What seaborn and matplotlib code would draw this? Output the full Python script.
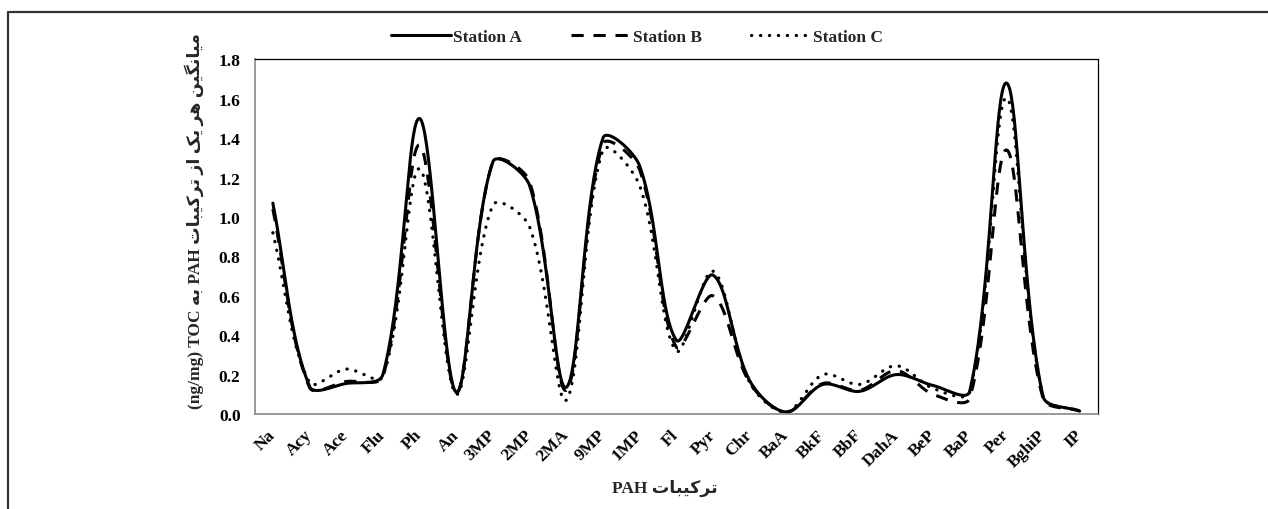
import numpy as np
import pandas as pd
import matplotlib
matplotlib.use("Agg")
import matplotlib.pyplot as plt
import seaborn as sns
from matplotlib.lines import Line2D

# ---------------- data ----------------
compounds = ["Na", "Acy", "Ace", "Flu", "Ph", "An", "3MP", "2MP", "2MA", "9MP", "1MP",
             "Fl", "Pyr", "Chr", "BaA", "BkF", "BbF", "DahA", "BeP", "BaP", "Per", "BghiP", "IP"]
station_a = [1.07, 0.14, 0.155, 0.20, 1.50, 0.11, 1.28, 1.16, 0.135, 1.40, 1.26,
             0.375, 0.705, 0.17, 0.01, 0.15, 0.115, 0.20, 0.145, 0.115, 1.68, 0.09, 0.015]
station_b = [1.04, 0.135, 0.165, 0.19, 1.365, 0.11, 1.28, 1.18, 0.12, 1.37, 1.24,
             0.34, 0.60, 0.16, 0.01, 0.155, 0.12, 0.22, 0.10, 0.08, 1.34, 0.08, 0.015]
station_c = [0.92, 0.16, 0.228, 0.19, 1.245, 0.10, 1.06, 0.95, 0.07, 1.34, 1.16,
             0.32, 0.725, 0.16, 0.01, 0.20, 0.15, 0.245, 0.13, 0.11, 1.605, 0.09, 0.015]
series_names = ["Station A", "Station B", "Station C"]
y_ticks = [0.0, 0.2, 0.4, 0.6, 0.8, 1.0, 1.2, 1.4, 1.6, 1.8]

# Persian text (presentation forms, visual order)
w_tarkibat = "\uFE95\uFE8E\uFE92\uFBFF\uFB90\uFEAE\uFE97"
w_be = "\uFEEA\uFE91"
w_az = "\uFEAF\uFE8D"
w_yek = "\uFB8F\uFBFE"
w_har = "\uFEAE\uFEEB"
w_miangin = "\uFEE6\uFBFF\uFB95\uFEE7\uFE8E\uFBFF\uFEE3"
y_label = "(ng/mg) TOC " + w_be + " PAH " + w_tarkibat + " " + w_az + " " + w_yek + " " + w_har + " " + w_miangin
x_label = "PAH " + w_tarkibat

# ---------------- style ----------------
sns.set_theme(style="white")
plt.rcParams["font.family"] = ["Liberation Serif", "DejaVu Sans"]
plt.rcParams["font.weight"] = "bold"

FS = 12.5
W, H = 1268, 510
fig = plt.figure(figsize=(W / 100, H / 100), dpi=100)
fig.patch.set_facecolor("white")
ax = fig.add_axes([254.5 / W, 1 - 415 / H, (1098 - 254.5) / W, (415 - 60.3) / H])
ax.set_facecolor("white")

n = len(compounds)
xs = np.arange(n)
ax.set_xlim(-0.5, n - 0.5)
ax.set_ylim(0, 1.8)


def excel_smooth(ax, xv, yv, steps=40):
    pts = ax.transData.transform(np.column_stack([xv, yv]).astype(float))
    m = len(pts)
    segs = []
    f = 1.0 / 3.0
    for i in range(m - 1):
        p0 = pts[i - 1] if i > 0 else pts[i]
        p1 = pts[i]
        p2 = pts[i + 1]
        p3 = pts[i + 2] if i + 2 < m else pts[i + 1]
        d01 = np.hypot(*(p1 - p0))
        d12 = np.hypot(*(p2 - p1))
        d23 = np.hypot(*(p3 - p2))
        r1 = d12 / (d01 + d12) if d01 + d12 > 0 else 0
        r2 = d12 / (d12 + d23) if d12 + d23 > 0 else 0
        c1 = p1 + (p2 - p0) * f * r1
        c2 = p2 - (p3 - p1) * f * r2
        t = np.linspace(0, 1, steps, endpoint=(i == m - 2))[:, None]
        seg = (1 - t) ** 3 * p1 + 3 * (1 - t) ** 2 * t * c1 + 3 * (1 - t) * t ** 2 * c2 + t ** 3 * p2
        segs.append(seg)
    out = np.vstack(segs)
    return ax.transData.inverted().transform(out)


styles = {
    "Station A": dict(dashes=None, lw=2.2),
    "Station B": dict(dashes=(4, 3.2), lw=2.2),
    "Station C": dict(dashes=(0.1, 2.7), lw=2.3),
}

for name, vals in zip(series_names, [station_a, station_b, station_c]):
    sm = excel_smooth(ax, xs, vals)
    df = pd.DataFrame({"x": sm[:, 0], "y": sm[:, 1]})
    sns.lineplot(data=df, x="x", y="y", ax=ax, sort=False, estimator=None,
                 color="black", linewidth=styles[name]["lw"])
    line = ax.lines[-1]
    if styles[name]["dashes"] is not None:
        line.set_dashes(styles[name]["dashes"])
    if name == "Station C":
        line.set_dash_capstyle("round")
    line.set_solid_capstyle("round")

ax.set_xlim(-0.5, n - 0.5)
ax.set_ylim(0, 1.8)
ax.set_xticks(xs)
ax.set_xticklabels(compounds, rotation=45, ha="right", va="center",
                   rotation_mode="anchor", fontsize=FS, fontweight="bold")
ax.set_yticks(y_ticks)
ax.set_yticklabels([f"{v:.1f}" for v in y_ticks], fontsize=FS, fontweight="bold")
ax.tick_params(axis="both", which="both", direction="out", length=4, width=1,
               color="#888888", labelcolor="black")
ax.tick_params(axis="y", pad=6)
ax.tick_params(axis="x", pad=9)
ax.set_xlabel("")
ax.set_ylabel("")
ax.grid(False)
for s in ["left", "bottom"]:
    ax.spines[s].set_color("#888888")
    ax.spines[s].set_linewidth(1.2)
for s in ["top", "right"]:
    ax.spines[s].set_color("black")
    ax.spines[s].set_linewidth(0.9)
    ax.spines[s].set_visible(True)

fig.text(194 / W, 1 - 221 / H, y_label, rotation=90, ha="center", va="center",
         fontsize=FS, fontweight="bold")
fig.text(665 / W, 1 - 488 / H, x_label, ha="center", va="center",
         fontsize=FS, fontweight="bold")

handles = []
for name in series_names:
    h = Line2D([0], [0], color="black", lw=styles[name]["lw"])
    if styles[name]["dashes"] is not None:
        h.set_dashes(styles[name]["dashes"])
    if name == "Station C":
        h.set_dash_capstyle("round")
    handles.append(h)
fig.legend(handles, series_names, loc="center", bbox_to_anchor=(637 / W, 1 - 37.7 / H),
           ncol=3, frameon=False, handlelength=3.45, handletextpad=0.12,
           columnspacing=2.8, prop={"family": ["Liberation Serif"], "weight": "bold", "size": FS})

# outer frame (top and left edges)
fig.add_artist(Line2D([8 / W, 8 / W], [0, 1 - 12.7 / H], transform=fig.transFigure,
                      color="#333333", lw=1.6))
fig.add_artist(Line2D([8 / W, 1], [1 - 12.7 / H, 1 - 12.7 / H], transform=fig.transFigure,
                      color="#333333", lw=1.6))

fig.savefig("out.png", dpi=100, facecolor="white")
